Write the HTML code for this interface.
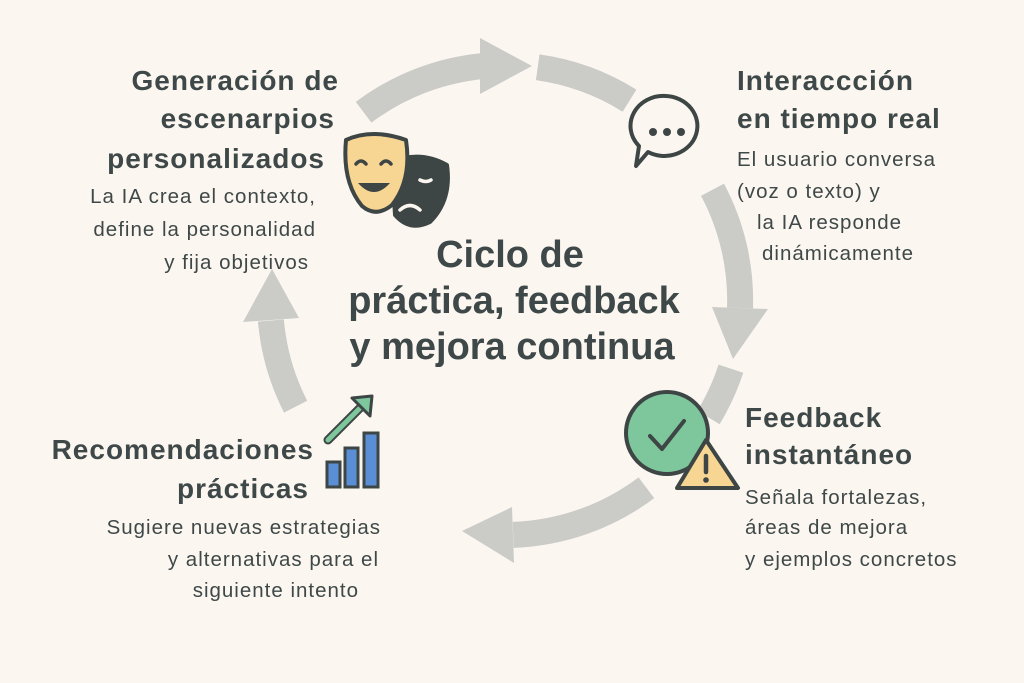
<!DOCTYPE html>
<html><head><meta charset="utf-8"><style>
body{margin:0;width:1024px;height:683px;background:#fbf7f0;overflow:hidden;position:relative;font-family:"Liberation Sans",sans-serif;color:#3f4848}
.t{position:absolute;white-space:nowrap;line-height:1}
.h{font-weight:bold;font-size:28px;letter-spacing:1px}
.b{font-size:20.5px;letter-spacing:1px}
.c{font-weight:bold;font-size:38px}
.r{transform:translateX(-100%)}
.m{transform:translateX(-50%)}
</style></head><body>
<svg width="1024" height="683" style="position:absolute;left:0;top:0">
<g fill="none" stroke="#cbcbc8" stroke-width="26">
<path d="M363.6,112.3 A235,235 0 0 1 484.5,65.9"/>
<path d="M537.7,67.3 A235,235 0 0 1 629.5,100.7"/>
<path d="M712.5,189.7 A235,235 0 0 1 740,308"/>
<path d="M730.9,368.7 A235,235 0 0 1 708.5,417.5"/>
<path d="M646.4,487.7 A235,235 0 0 1 513.2,534.9"/>
<path d="M295.6,406.7 A235,235 0 0 1 270.9,320.5"/>
</g>
<g fill="#cbcbc8">
<polygon points="480,38 480,94 532,66"/>
<polygon points="768,309 712,307 733,359"/>
<polygon points="514,563 512,507 462,531"/>
<polygon points="243,322 299,318 272,269"/>
</g>
<g stroke="#3d4545" stroke-width="4" stroke-linejoin="round">
<path d="M392,162 Q420,150 447,165 Q452,200 430,222 Q410,232 395,215 Z" fill="#3d4545"/>
<path d="M346,140 Q372,128 406,140 Q412,180 392,205 Q376,218 362,206 Q342,182 346,140 Z" fill="#f7d593"/>
</g>
<g fill="none" stroke="#3d4545" stroke-width="3.5" stroke-linecap="round">
<path d="M356,164 q5,-6 10,0 M381,164 q5,-6 10,0"/>
<path d="M420,180 q6,3 11,0" stroke="#fbf7f0"/>
<path d="M400,210 q10,-9 20,0" stroke="#fbf7f0"/>
</g>
<path d="M358,183 q16,18 32,0 z" fill="#3d4545"/>
<path d="M666,96 a33,30 0 1 1 -18,56 l-12,14 l3,-20 a33,30 0 0 1 27,-50 z" fill="#fbf7f0" stroke="#3d4545" stroke-width="4" stroke-linejoin="round"/>
<g fill="#3d4545"><circle cx="653" cy="132" r="4"/><circle cx="667" cy="132" r="4"/><circle cx="681" cy="132" r="4"/></g>
<circle cx="667" cy="433" r="41" fill="#7ec79c" stroke="#3d4545" stroke-width="4"/>
<path d="M650,436 l12,13 l22,-28" fill="none" stroke="#3d4545" stroke-width="4" stroke-linecap="round" stroke-linejoin="round"/>
<path d="M706,440 L738,488 L677,488 Z" fill="#f7d593" stroke="#3d4545" stroke-width="4" stroke-linejoin="round"/>
<path d="M706,456 v16" stroke="#3d4545" stroke-width="4.5" stroke-linecap="round"/>
<circle cx="706" cy="480" r="2.8" fill="#3d4545"/>
<g fill="#5a8fd6" stroke="#3d4545" stroke-width="3">
<rect x="327" y="462" width="13" height="25"/>
<rect x="345" y="448" width="13" height="39"/>
<rect x="364" y="433" width="14" height="54"/>
</g>
<path d="M328,440 L366,402" stroke="#3d4545" stroke-width="9" stroke-linecap="round"/>
<path d="M328,440 L366,402" stroke="#7ec79c" stroke-width="5" stroke-linecap="round"/>
<polygon points="352,398 372,396 370,416" fill="#7ec79c" stroke="#3d4545" stroke-width="3" stroke-linejoin="round"/>
</svg>

<div class="t h r" style="left:339px;top:67px">Generación de</div>
<div class="t h r" style="left:335px;top:105px">escenarpios</div>
<div class="t h r" style="left:325px;top:145px">personalizados</div>
<div class="t b r" style="left:316px;top:187px">La IA crea el contexto,</div>
<div class="t b r" style="left:316px;top:220px">define la personalidad</div>
<div class="t b r" style="left:309px;top:253px">y fija objetivos</div>

<div class="t h" style="left:737px;top:67px">Interaccción</div>
<div class="t h" style="left:737px;top:105px">en tiempo real</div>
<div class="t b" style="left:737px;top:150px">El usuario conversa</div>
<div class="t b" style="left:737px;top:182px">(voz o texto) y</div>
<div class="t b" style="left:757px;top:213px">la IA responde</div>
<div class="t b" style="left:762px;top:244px">dinámicamente</div>

<div class="t c m" style="left:510px;top:236px">Ciclo de</div>
<div class="t c m" style="left:514px;top:282px">práctica, feedback</div>
<div class="t c m" style="left:512px;top:328px">y mejora continua</div>

<div class="t h" style="left:745px;top:404px">Feedback</div>
<div class="t h" style="left:745px;top:441px">instantáneo</div>
<div class="t b" style="left:745px;top:488px">Señala fortalezas,</div>
<div class="t b" style="left:745px;top:518px">áreas de mejora</div>
<div class="t b" style="left:745px;top:550px">y ejemplos concretos</div>

<div class="t h r" style="left:314px;top:436px">Recomendaciones</div>
<div class="t h r" style="left:309px;top:475px">prácticas</div>
<div class="t b r" style="left:381px;top:518px">Sugiere nuevas estrategias</div>
<div class="t b r" style="left:379px;top:550px">y alternativas para el</div>
<div class="t b r" style="left:359px;top:581px">siguiente intento</div>
</body></html>
